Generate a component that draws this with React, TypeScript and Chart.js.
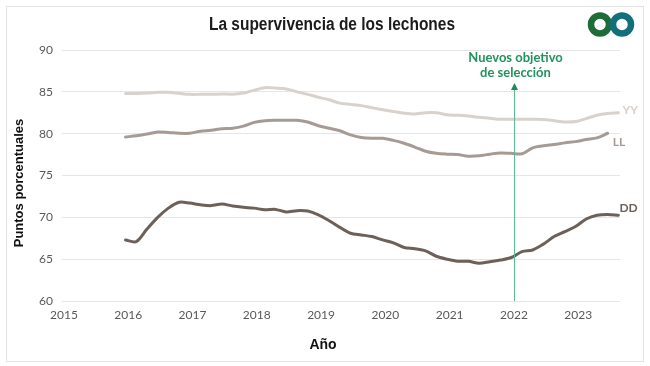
import React, { useEffect, useRef } from "react";
import { Chart, registerables } from "chart.js";

Chart.register(...registerables);

const chartTitle = "La supervivencia de los lechones";
const yAxisTitle = "Puntos porcentuales";
const xAxisTitle = "Año";
const markerYear = 2022;
const markerText = ["Nuevos objetivo", "de selección"];
const yearTicks = [2015, 2016, 2017, 2018, 2019, 2020, 2021, 2022, 2023];

const periods = [
  "2015-12",
  "2016-02", "2016-04", "2016-06", "2016-08", "2016-10", "2016-12",
  "2017-02", "2017-04", "2017-06", "2017-08", "2017-10", "2017-12",
  "2018-02", "2018-04", "2018-06", "2018-08", "2018-10", "2018-12",
  "2019-02", "2019-04", "2019-06", "2019-08", "2019-10", "2019-12",
  "2020-02", "2020-04", "2020-06", "2020-08", "2020-10", "2020-12",
  "2021-02", "2021-04", "2021-06", "2021-08", "2021-10", "2021-12",
  "2022-02", "2022-04", "2022-06", "2022-08", "2022-10", "2022-12",
  "2023-02", "2023-04", "2023-06", "2023-08",
];

const yyValues = [
  84.8,
  84.8, 84.85, 84.95, 84.95, 84.82, 84.7,
  84.7, 84.7, 84.75, 84.72, 84.85, 85.2,
  85.5, 85.45, 85.35, 85.0, 84.7, 84.35,
  84.05, 83.65, 83.5, 83.35, 83.1, 82.85,
  82.65, 82.45, 82.35, 82.5, 82.5, 82.25,
  82.2, 82.1, 81.95, 81.85, 81.72, 81.72,
  81.72, 81.72, 81.7, 81.55, 81.4, 81.45,
  81.8, 82.2, 82.4, 82.5,
];

const llValues = [
  79.6,
  79.75, 79.95, 80.2, 80.15, 80.05, 80.05,
  80.3, 80.4, 80.6, 80.65, 80.9, 81.35,
  81.55, 81.6, 81.6, 81.6, 81.4, 80.95,
  80.65, 80.35, 79.85, 79.55, 79.45, 79.45,
  79.2, 78.85, 78.4, 77.9, 77.65, 77.55,
  77.5, 77.3, 77.35, 77.55, 77.7, 77.65,
  77.6, 78.3, 78.55, 78.7, 78.9, 79.05,
  79.3, 79.5, 80.05, null,
];

const ddValues = [
  67.3,
  67.1, 68.6, 70.0, 71.1, 71.8, 71.7,
  71.5, 71.4, 71.6, 71.35, 71.2, 71.1,
  70.9, 70.95, 70.65, 70.8, 70.75, 70.3,
  69.6, 68.8, 68.1, 67.9, 67.7, 67.3,
  66.95, 66.4, 66.25, 66.0, 65.35, 65.0,
  64.75, 64.75, 64.5, 64.7, 64.9, 65.2,
  65.9, 66.1, 66.8, 67.7, 68.3, 68.9,
  69.8, 70.25, 70.35, 70.25,
];

const seriesNames = ["YY", "LL", "DD"];

function periodToYear(p: string): number {
  const [y, m] = p.split("-").map(Number);
  return y + (m - 0.5) / 12;
}

function toPoints(vals: (number | null)[]) {
  return periods.map((p, i) => ({ x: periodToYear(p), y: vals[i] }));
}

const COLORS = {
  YY: "#d9d2cc",
  LL: "#a69b94",
  DD: "#6c6058",
};

const extrasPlugin = {
  id: "extras",
  afterDraw(chart: any) {
    const ctx = chart.ctx as CanvasRenderingContext2D;
    const xs = chart.scales.x;
    const ys = chart.scales.y;
    const area = chart.chartArea;
    ctx.save();

    // Chart title (condensed)
    ctx.fillStyle = "#1b1b1b";
    ctx.textAlign = "center";
    ctx.textBaseline = "middle";
    ctx.save();
    ctx.translate(332, 25);
    ctx.scale(0.86, 1);
    ctx.font = 'bold 18px "Liberation Sans", Arial, sans-serif';
    ctx.fillText(chartTitle, 0, 0);
    ctx.restore();

    // Axis titles
    ctx.fillStyle = "#111";
    ctx.font = 'bold 14px "Liberation Sans", Arial, sans-serif';
    ctx.fillText(xAxisTitle, 323, 345);
    ctx.font = 'bold 13px "Liberation Sans", Arial, sans-serif';
    ctx.save();
    ctx.translate(19, 183);
    ctx.rotate(-Math.PI / 2);
    ctx.fillText(yAxisTitle, 0, 0);
    ctx.restore();

    // Marker line
    const mx = Math.round(xs.getPixelForValue(markerYear)) + 0.5;
    const tipY = ys.getPixelForValue(86.05);
    ctx.strokeStyle = "#5fb894";
    ctx.lineWidth = 1;
    ctx.beginPath();
    ctx.moveTo(mx, tipY + 5);
    ctx.lineTo(mx, area.bottom);
    ctx.stroke();
    ctx.fillStyle = "#1d8a5c";
    ctx.beginPath();
    ctx.moveTo(mx, tipY);
    ctx.lineTo(mx - 3.5, tipY + 7);
    ctx.lineTo(mx + 3.5, tipY + 7);
    ctx.closePath();
    ctx.fill();

    ctx.fillStyle = "#22925f";
    ctx.font = "bold 13px Lato, sans-serif";
    ctx.textAlign = "center";
    ctx.fillText(markerText[0], mx + 1, tipY - 25);
    ctx.fillText(markerText[1], mx + 1, tipY - 10);

    // End labels
    const offsets: Record<string, [number, number]> = {
      YY: [4, -3],
      LL: [5, 9],
      DD: [1, -7],
    };
    ctx.font = "bold 12px Lato, sans-serif";
    ctx.textAlign = "left";
    chart.data.datasets.forEach((ds: any, i: number) => {
      const meta = chart.getDatasetMeta(i);
      let last: any = null;
      for (let k = ds.data.length - 1; k >= 0; k--) {
        if (ds.data[k].y !== null && ds.data[k].y !== undefined) {
          last = meta.data[k];
          break;
        }
      }
      if (!last) return;
      const name = ds.label as string;
      const [dx, dy] = offsets[name];
      ctx.fillStyle = (COLORS as any)[name];
      ctx.fillText(name, last.x + dx, last.y + dy);
    });

    // Logo: two rings
    ctx.lineWidth = 6.5;
    ctx.strokeStyle = "#1e6d38";
    ctx.beginPath();
    ctx.arc(600, 24.5, 9, 0, Math.PI * 2);
    ctx.stroke();
    ctx.strokeStyle = "#13707b";
    ctx.beginPath();
    ctx.arc(622, 24.5, 9, 0, Math.PI * 2);
    ctx.stroke();

    ctx.restore();
  },
};

export default function App() {
  const canvasRef = useRef<HTMLCanvasElement | null>(null);

  useEffect(() => {
    if (!canvasRef.current) return;
    const chart = new Chart(canvasRef.current, {
      type: "line",
      data: {
        datasets: [
          { label: seriesNames[0], data: toPoints(yyValues) as any, borderColor: COLORS.YY },
          { label: seriesNames[1], data: toPoints(llValues) as any, borderColor: COLORS.LL },
          { label: seriesNames[2], data: toPoints(ddValues) as any, borderColor: COLORS.DD },
        ].map((d) => ({
          ...d,
          borderWidth: 3,
          pointRadius: 0,
          tension: 0.3,
          borderCapStyle: "round" as const,
          borderJoinStyle: "round" as const,
          spanGaps: false,
          fill: false,
        })),
      },
      options: {
        animation: false,
        responsive: false,
        devicePixelRatio: 1,
        layout: { padding: { left: 0, right: 30, top: 50, bottom: 0 } },
        plugins: {
          legend: { display: false },
          title: { display: false },
          tooltip: { enabled: false },
        },
        scales: {
          x: {
            type: "linear",
            min: 2014.97,
            max: 2023.65,
            grid: { display: false, drawTicks: false },
            border: { display: false },
            afterBuildTicks: (s: any) => {
              s.ticks = yearTicks.map((v) => ({ value: v }));
            },
            afterFit: (s: any) => {
              s.height = 65;
            },
            ticks: {
              padding: 7,
              color: "#595959",
              font: { family: "Lato", size: 12 },
              maxRotation: 0,
              autoSkip: false,
              callback: (v: any) => String(v),
            },
          },
          y: {
            min: 60,
            max: 90,
            grid: { color: "#e6e6e6", lineWidth: 1, drawTicks: false },
            border: { display: false },
            afterFit: (s: any) => {
              s.width = 62;
            },
            ticks: {
              stepSize: 5,
              padding: 9,
              color: "#595959",
              font: { family: "Lato", size: 12 },
            },
          },
        },
      },
      plugins: [extrasPlugin],
    });
    return () => chart.destroy();
  }, []);

  return (
    <div
      style={{
        position: "absolute",
        left: 0,
        top: 0,
        width: 650,
        height: 366,
        background: "#fff",
        overflow: "hidden",
      }}
    >
      <div
        style={{
          position: "absolute",
          left: 6,
          top: 6,
          width: 638,
          height: 356,
          border: "1px solid #e2e2e2",
          boxSizing: "border-box",
        }}
      />
      <canvas
        ref={canvasRef}
        width={650}
        height={366}
        style={{ position: "absolute", left: 0, top: 0, display: "block" }}
      />
    </div>
  );
}
